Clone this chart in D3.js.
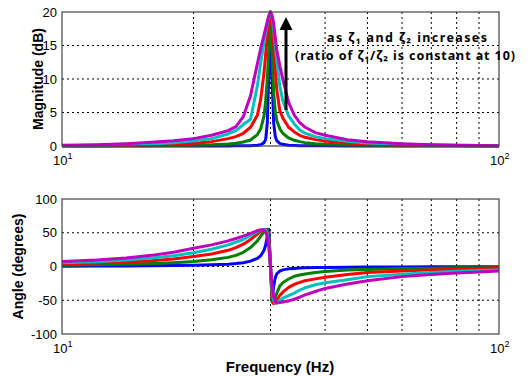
<!DOCTYPE html>
<html><head><meta charset="utf-8">
<script src="https://cdn.jsdelivr.net/npm/d3@7"></script>
<style>body{margin:0;background:#fff}</style>
</head><body>
<svg id="c" width="529" height="377"></svg>
<script>
// ---- data ----
const freqs = [10,12,14,16,18,20,22,24,25,26,27,28,28.5,29,29.25,29.5,29.75,30,30.25,30.5,30.75,31,31.5,32,33,34,35,36,38,40,45,50,60,70,80,90,100];

const magBlue    = [0,0,0,0,0,0,0.01,0.01,0.02,0.03,0.05,0.12,0.2,0.5,1.0,3.5,11,20,10,3.5,1.5,0.8,0.4,0.25,0.12,0.08,0.05,0.04,0.03,0.02,0.01,0.01,0,0,0,0,0];
const magGreen   = [0,0.01,0.02,0.04,0.07,0.1,0.17,0.3,0.4,0.6,0.9,1.7,2.6,4.5,6.8,10,15,20,14,8,5.3,3.8,2.6,1.9,1.2,0.85,0.65,0.5,0.35,0.25,0.15,0.1,0.05,0.03,0.02,0.01,0.01];
const magRed     = [0.02,0.05,0.08,0.15,0.25,0.4,0.65,1.1,1.4,1.9,2.8,4.6,7,11,13.8,16.5,18.5,20,18,15,11.5,8.5,5.3,4.2,2.8,2.1,1.6,1.3,0.95,0.75,0.45,0.3,0.15,0.1,0.06,0.04,0.03];
const magCyan    = [0.05,0.1,0.2,0.3,0.5,0.75,1.1,1.8,2.3,3.2,4.0,9,12.5,15.5,17,18.3,19.3,20,19.2,17.5,15.2,13,9,6.8,4.5,3.3,2.4,1.9,1.4,1.1,0.7,0.45,0.25,0.15,0.1,0.06,0.04];
const magMagenta = [0.1,0.2,0.35,0.55,0.8,1.1,1.6,2.3,2.9,4.4,7.5,12.3,14.6,16.6,17.6,18.6,19.5,20,19.5,18.3,16.3,14.4,12,10,6.5,4.6,3.5,2.8,2.0,1.6,0.95,0.65,0.35,0.2,0.12,0.08,0.05];

const phBlue    = [0.5,0.6,0.8,1,1.3,1.8,2.5,3.5,4.3,5.5,8,12,16,24,32,45,55,0,-50,-30,-17,-11,-7,-5,-3.5,-2.8,-2.3,-2,-1.6,-1.3,-1,-0.8,-0.6,-0.5,-0.4,-0.3,-0.3];
const phGreen   = [2,2.5,3.3,4.3,5.6,7.4,10,13.5,16.5,21,28,38,45,51.5,54,55,47,0,-53,-53,-46,-40,-29,-24,-18.5,-14.5,-12.5,-11,-9,-7.5,-5.2,-4.3,-3,-2.5,-2,-1.7,-1.5];
const phRed     = [3.8,5,6.5,8.5,11,14.7,18.5,24,28,33,40,48,52,54.5,55,52,38,0,-45,-55,-54,-50,-43,-38,-31,-26.5,-23.5,-21,-18.3,-16,-12,-9,-6.5,-5,-4,-3,-2];
const phCyan    = [5.5,7,9.5,12.5,16,20.5,25.5,32,36,40,46,51.5,54,55,54,48,32,0,-35,-50,-54.5,-54,-50,-47,-43,-39.5,-35,-31.5,-27,-24,-19.5,-15,-11.4,-9,-7.2,-6,-5];
const phMagenta = [7.5,9.5,12.5,16.5,21,27,32,38,41.5,45,49,53,54.5,54,51,44,28,0,-30,-45,-52,-54,-53.5,-52.5,-51,-48.5,-45.5,-42,-37,-32.5,-26,-21,-15,-12,-9.5,-8,-6.5];

const magTicks = [0,5,10,15,20];
const phTicks = [-100,-50,0,50,100];
const freqGrid = [20,30,40,50,60,70,80,90];
const seriesColors = ["#0000ff","#008000","#ff0000","#00bfbf","#bf00bf"];
const magSeries = [magBlue, magGreen, magRed, magCyan, magMagenta];
const phSeries = [phBlue, phGreen, phRed, phCyan, phMagenta];
const note1 = "as \u03B6\u2081 and \u03B6\u2082 increases";
const note2 = "(ratio of \u03B6\u2081/\u03B6\u2082 is constant at 10)";

// ---- drawing ----
const svg = d3.select("#c");
const FONT = "'Liberation Sans', Arial, sans-serif";
const L = 62, R = 499;
const x = d3.scaleLog().domain([10,100]).range([L,R]);

function panel(top, bottom, domain, ticks, series, ylabel, ylabelX) {
  const y = d3.scaleLinear().domain(domain).range([bottom, top]);
  const g = svg.append("g");
  g.selectAll("line.vg").data(freqGrid).enter().append("line")
    .attr("x1", d => x(d)).attr("x2", d => x(d)).attr("y1", top).attr("y2", bottom)
    .attr("stroke", "#000").attr("stroke-width", 1).attr("stroke-dasharray", "2,3");
  g.selectAll("line.hg").data(ticks.slice(1, -1)).enter().append("line")
    .attr("x1", L).attr("x2", R).attr("y1", d => y(d)).attr("y2", d => y(d))
    .attr("stroke", "#000").attr("stroke-width", 1).attr("stroke-dasharray", "2,3");
  const ya = d3.axisLeft(y).tickValues(ticks).tickSize(0).tickPadding(5).tickFormat(d3.format("d"));
  const yg = g.append("g").attr("transform", `translate(${L},0)`).call(ya);
  yg.select(".domain").remove();
  yg.selectAll("text").attr("font-family", FONT).attr("font-size", 13).attr("fill", "#000")
    .text(d => String(d));
  const line = d3.line().x((d, i) => x(freqs[i])).y(d => y(d));
  series.forEach((s, k) => {
    g.append("path").attr("d", line(s)).attr("fill", "none")
      .attr("stroke", seriesColors[k]).attr("stroke-width", 3).attr("stroke-linejoin", "round");
  });
  g.append("rect").attr("x", L).attr("y", top).attr("width", R - L).attr("height", bottom - top)
    .attr("fill", "none").attr("stroke", "#444").attr("stroke-width", 1.2);
  [[10, "1"], [100, "2"]].forEach(([v, e]) => {
    const t = g.append("text").attr("x", x(v) - 9).attr("y", bottom + 19)
      .attr("font-family", FONT).attr("font-size", 13).attr("fill", "#000");
    t.append("tspan").text("10");
    t.append("tspan").attr("dy", -6).attr("font-size", 9).text(e);
  });
  g.append("text").attr("transform", `translate(${ylabelX},${(top + bottom) / 2}) rotate(-90)`)
    .attr("text-anchor", "middle").attr("font-family", FONT).attr("font-size", 14)
    .attr("font-weight", "bold").attr("fill", "#000").text(ylabel);
  return y;
}

panel(12, 146, [0,20], magTicks, magSeries, "Magnitude (dB)", 43);
panel(199, 334, [-100,100], phTicks, phSeries, "Angle (degrees)", 23);

svg.append("text").attr("x", 280).attr("y", 372).attr("text-anchor", "middle")
  .attr("font-family", FONT).attr("font-size", 15).attr("font-weight", "bold").text("Frequency (Hz)");

// arrow
svg.append("line").attr("x1", 286).attr("y1", 110).attr("x2", 286).attr("y2", 28)
  .attr("stroke", "#000").attr("stroke-width", 3);
svg.append("path").attr("d", "M286,17 L292.5,30 L279.5,30 Z").attr("fill", "#000");

// annotation
const AF = "'Noto Sans', sans-serif";
svg.append("text").attr("x", 327).attr("y", 42).attr("font-family", AF)
  .attr("font-size", 12.5).attr("font-weight", "bold").attr("fill", "#000")
  .attr("textLength", 160).attr("lengthAdjust", "spacing").text(note1);
svg.append("text").attr("x", 295).attr("y", 60).attr("font-family", AF)
  .attr("font-size", 12.5).attr("font-weight", "bold").attr("fill", "#000")
  .attr("textLength", 220).attr("lengthAdjust", "spacing").text(note2);
</script>
</body></html>
